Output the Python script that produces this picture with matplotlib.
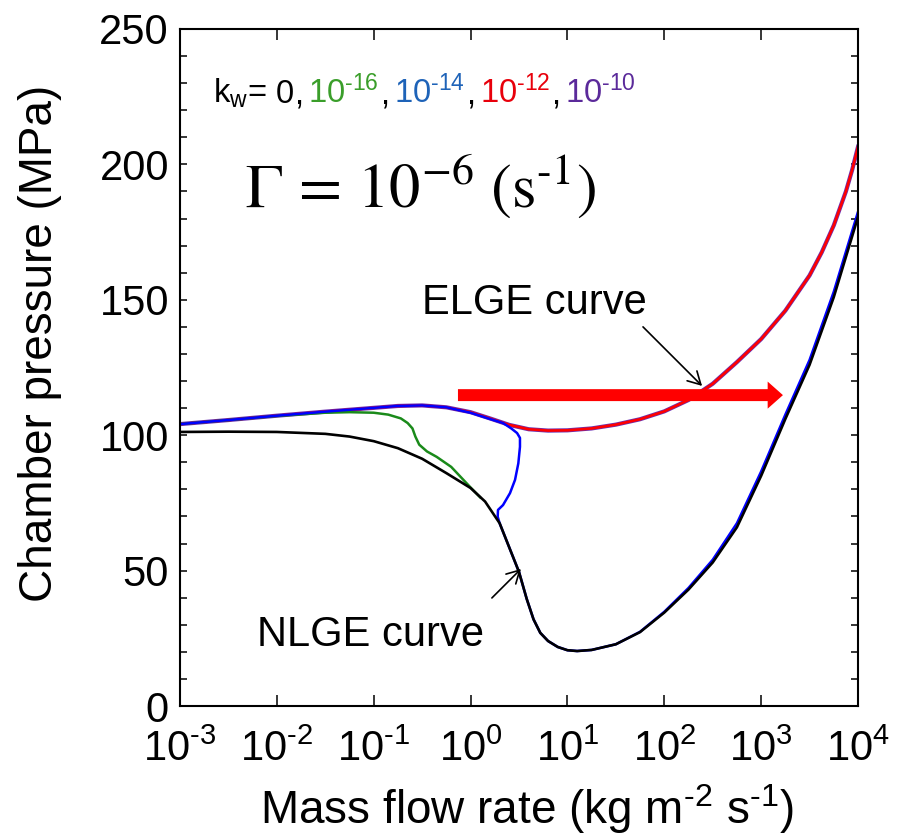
import matplotlib
matplotlib.use("Agg")
import numpy as np
import matplotlib.pyplot as plt
from matplotlib.ticker import MultipleLocator, NullLocator

plt.rcParams['font.family'] = ['Liberation Sans', 'DejaVu Sans']
plt.rcParams['mathtext.fontset'] = 'custom'
plt.rcParams['mathtext.rm'] = 'Liberation Sans'
plt.rcParams['mathtext.it'] = 'Liberation Sans:italic'

W, H = 911, 835

# ---------------- data ----------------
# x values are log10 of the mass flow rate (kg m^-2 s^-1), y = chamber pressure (MPa)
# NLGE curve (kw = 0)
nlge_logx = [-3.0, -2.5, -2.0, -1.5, -1.25, -1.0, -0.75, -0.5, -0.25, 0.0, 0.15,
             0.3, 0.4, 0.5, 0.58, 0.65, 0.72, 0.8, 0.9, 1.0, 1.1, 1.25, 1.5,
             1.75, 2.0, 2.25, 2.5, 2.75, 3.0, 3.25, 3.5, 3.75, 4.0]
nlge_y = [101.2, 101.3, 101.2, 100.5, 99.5, 97.8, 95.2, 91.3, 86.0, 80.5, 75.5,
          67.5, 58.5, 49.5, 39.5, 32.0, 27.0, 24.0, 21.8, 20.6, 20.3, 20.7, 22.8,
          27.3, 34.5, 43.0, 53.0, 66.0, 85.0, 106.0, 126.0, 151.0, 180.6]

# ELGE curve (kw = 1e-12 and 1e-10)
elge_logx = [-3.0, -2.5, -2.0, -1.5, -1.0, -0.75, -0.5, -0.25, 0.0, 0.2, 0.4,
             0.6, 0.8, 1.0, 1.25, 1.5, 1.75, 2.0, 2.25, 2.5, 2.75, 3.0, 3.25,
             3.5, 3.625, 3.75, 3.875, 3.94, 4.0]
elge_y = [104.1, 105.6, 107.2, 108.7, 110.1, 110.8, 111.0, 110.3, 108.5, 106.2,
          103.8, 102.2, 101.7, 101.8, 102.5, 103.9, 105.9, 108.8, 113.0, 119.0,
          127.0, 135.5, 146.0, 159.0, 167.5, 177.5, 190.0, 198.0, 206.5]

# kw = 1e-14 (blue): upper branch, sudden drop, lower branch
kw14_logx = [-3.0, -2.5, -2.0, -1.5, -1.0, -0.75, -0.5, -0.25, 0.0, 0.2, 0.335,
             0.42, 0.48, 0.51, 0.51, 0.493, 0.459, 0.407, 0.335, 0.283, 0.28, 0.3,
             0.4, 0.5, 0.58, 0.65, 0.72, 0.8, 0.9, 1.0, 1.1, 1.25, 1.5, 1.75,
             2.0, 2.25, 2.5, 2.75, 3.0, 3.25, 3.5, 3.75, 4.0]
kw14_y = [104.1, 105.6, 107.2, 108.7, 110.1, 110.8, 111.0, 110.3, 108.3, 106.0,
          104.5, 102.5, 100.8, 99.0, 95.7, 89.6, 83.5, 78.6, 74.2, 72.4, 69.9, 67.5,
          58.5, 49.5, 39.5, 32.0, 27.0, 24.0, 21.8, 20.6, 20.3, 20.7, 22.8, 27.4,
          34.8, 43.6, 54.0, 67.5, 86.6, 107.6, 127.8, 153.0, 182.5]

# kw = 1e-16 (green)
kw16_logx = [-3.0, -2.5, -2.0, -1.5, -1.25, -1.0, -0.85, -0.72, -0.65, -0.6,
             -0.57, -0.53, -0.45, -0.35, -0.2, -0.1, 0.0, 0.1]
kw16_y = [104.1, 105.6, 107.1, 108.3, 108.5, 108.3, 107.6, 106.2, 104.5, 102.5,
          99.5, 96.5, 94.0, 92.0, 88.3, 84.5, 80.7, 77.0]

# annotation anchors (mass flow rate, pressure)
big_arrow_x = [0.741, 1679.0]
big_arrow_y = 114.8
elge_arrow = [(60.3, 140.0), (245.5, 118.2)]
nlge_arrow = [(1.66, 39.9), (3.31, 50.6)]

xticks = [1e-3, 1e-2, 1e-1, 1e0, 1e1, 1e2, 1e3, 1e4]
xtick_exps = ['\\text{-}3', '\\text{-}2', '\\text{-}1', '0', '1', '2', '3', '4']
yticks = [0, 50, 100, 150, 200, 250]

kw_labels = ['0', '10^{\\text{-}16}', '10^{\\text{-}14}', '10^{\\text{-}12}', '10^{\\text{-}10}']
kw_colors = ['black', '#3a9e2a', '#1e63b8', '#e8000b', '#5b2a9a']

# ---------------- figure ----------------
fig = plt.figure(figsize=(W / 100, H / 100), dpi=100)
ax = fig.add_axes([180 / W, 1 - 706 / H, 678 / W, 677 / H])

ax.plot(np.power(10.0, elge_logx), elge_y, color='#6a2fb0', lw=3.0)   # 1e-10
ax.plot(np.power(10.0, elge_logx), elge_y, color='#ff0000', lw=1.9)   # 1e-12
ax.plot(np.power(10.0, kw16_logx), kw16_y, color='#1a8a1a', lw=1.8)   # 1e-16
ax.plot(np.power(10.0, kw14_logx), kw14_y, color='#0000ff', lw=1.8)   # 1e-14
ax.plot(np.power(10.0, nlge_logx), nlge_y, color='black', lw=1.9)     # 0

ax.set_xscale('log')
ax.set_xlim(1e-3, 1e4)
ax.set_ylim(0, 250)

ax.set_xticks(xticks)
ax.set_xticklabels([r'$\mathregular{10^{%s}}$' % e for e in xtick_exps])
ax.xaxis.set_minor_locator(NullLocator())
ax.set_yticks(yticks)
ax.set_yticklabels([str(v) for v in yticks])
ax.yaxis.set_minor_locator(MultipleLocator(10))

ax.tick_params(axis='x', which='major', direction='in', length=8, width=1.1,
               top=True, labelsize=30, pad=17)
ax.tick_params(axis='y', which='both', direction='in', length=5, width=1.1,
               right=True, labelsize=30, pad=8)
for s in ax.spines.values():
    s.set_linewidth(1.5)

# big red arrow
ax.annotate('', xy=(big_arrow_x[1], big_arrow_y), xytext=(big_arrow_x[0], big_arrow_y),
            arrowprops=dict(arrowstyle='simple,head_length=11,head_width=19.5,tail_width=8.6',
                            mutation_scale=1, color='#ff0000', shrinkA=0, shrinkB=0, lw=0))

# curve arrows
for (p0, p1) in [elge_arrow, nlge_arrow]:
    ax.annotate('', xy=p1, xytext=p0,
                arrowprops=dict(arrowstyle='->,head_length=0.45,head_width=0.25',
                                mutation_scale=20, color='black', lw=1.2,
                                shrinkA=0, shrinkB=0))


def fx(x):
    return x / W


def fy(y):
    return 1 - y / H


fig.text(fx(422), fy(303), 'ELGE curve', fontsize=30, ha='left', va='center')
fig.text(fx(257), fy(635), 'NLGE curve', fontsize=30, ha='left', va='center')

# kw label: pieces chained left to right on a common baseline
kw_base = fy(103)
chain = [(fig.text(fx(213), kw_base, r'k$_\mathregular{w}$=', fontsize=23.5,
                   ha='left', va='baseline'), 0)]
for i, (lab, col) in enumerate(zip(kw_labels, kw_colors)):
    gap = 8 if i == 0 else 5
    t = fig.text(0, kw_base, r'$\mathregular{%s}$' % lab, fontsize=23.5, color=col,
                 ha='left', va='baseline')
    chain.append((t, gap))
    if i < len(kw_labels) - 1:
        c = fig.text(0, kw_base, ',', fontsize=23.5, color='black', ha='left', va='baseline')
        chain.append((c, 1))

renderer = fig.canvas.get_renderer()
x_cur = chain[0][0].get_window_extent(renderer).x1
for t, gap in chain[1:]:
    t.set_x((x_cur + gap) / W)
    x_cur = t.get_window_extent(renderer).x1

fig.text(fx(245), fy(207), r'$\Gamma\,=\,10^{-6}\ (\mathrm{s}^{\mathrm{\text{-}1}})$',
         fontsize=45, ha='left', va='baseline', math_fontfamily='stix')

fig.text(fx(527), fy(824),
         r'Mass flow rate (kg m$^\mathregular{\text{-}2}$ s$^\mathregular{\text{-}1}$)',
         fontsize=33, ha='center', va='baseline')
fig.text(fx(40), fy(343), 'Chamber pressure (MPa)', fontsize=33, rotation=90,
         ha='center', va='center')

fig.savefig('out.png', dpi=100)
